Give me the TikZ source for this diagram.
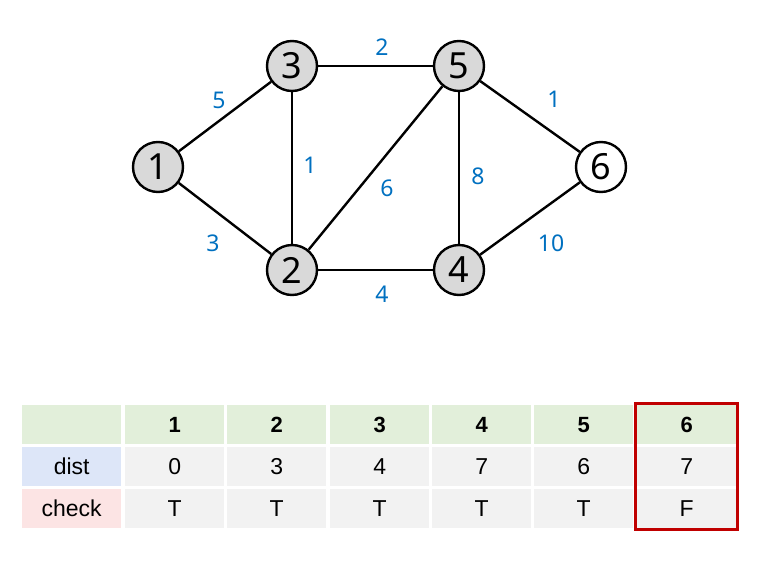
\documentclass[tikz,border=0pt]{standalone}
\usepackage{fontspec}
\usetikzlibrary{fit}
\setmainfont{Noto Sans}
\newfontfamily\tabfont{Liberation Sans}
\definecolor{lblue}{HTML}{0070C0}
\definecolor{nodegray}{HTML}{D9D9D9}
\definecolor{hdrgreen}{HTML}{E2EFDA}
\definecolor{distblue}{HTML}{DDE6F8}
\definecolor{checkpink}{HTML}{FCE4E4}
\definecolor{cellgray}{HTML}{F2F2F2}
\definecolor{boxred}{HTML}{C00000}
\begin{document}
\begin{tikzpicture}[x=1pt,y=-1pt,
  vtx/.style={circle,draw=black,line width=2.4pt,fill=nodegray,minimum size=50pt,inner sep=0pt,font=\fontsize{36}{36}\selectfont},
  vtxw/.style={vtx,fill=white},
  edge/.style={line width=2.4pt,black},
  wlab/.style={font=\fontsize{23}{23}\selectfont,text=lblue},
  cell/.style={minimum width=99pt,minimum height=39pt,inner sep=0pt,anchor=north west,font=\tabfont\fontsize{23}{23}\selectfont},
  hcell/.style={cell,fill=hdrgreen,font=\tabfont\bfseries\fontsize{22}{22}\selectfont},
  gcell/.style={cell,fill=cellgray}]
\useasboundingbox (0,0) rectangle (777,562);
% vertices
\node[vtx] (n1) at (158,167) {1};
\node[vtx] (n3) at (292,66) {3};
\node[vtx] (n5) at (459,66) {5};
\node[vtx] (n2) at (292,270) {2};
\node[vtx] (n4) at (459,270) {4};
\node[vtxw] (n6) at (601,167) {6};
% edges
\draw[edge] (n1) -- (n3);
\draw[edge] (n1) -- (n2);
\draw[edge] (n3) -- (n2);
\draw[edge] (n3) -- (n5);
\draw[edge] (n2) -- (n5);
\draw[edge] (n2) -- (n4);
\draw[edge] (n5) -- (n4);
\draw[edge] (n5) -- (n6);
\draw[edge] (n4) -- (n6);
% weights
\node[wlab] (w13) at (219,100) {5};
\node[wlab] (w12) at (213,243) {3};
\node[wlab] (w32) at (310,165) {1};
\node[wlab] (w35) at (382,47) {2};
\node[wlab] (w25) at (387,188) {6};
\node[wlab] (w24) at (382,294) {4};
\node[wlab] (w54) at (478,176) {8};
\node[wlab] (w56) at (554,99) {1};
\node[wlab] (w46) at (551,243) {10};
% table
\node[hcell] (h0) at (22,405) {};
\node[hcell] (h1) at (125,405) {1};
\node[hcell] (h2) at (227,405) {2};
\node[hcell] (h3) at (330,405) {3};
\node[hcell] (h4) at (432,405) {4};
\node[hcell] (h5) at (534,405) {5};
\node[hcell] (h6) at (637,405) {6};
\node[cell,fill=distblue] (d0) at (22,447) {dist};
\node[gcell] (d1) at (125,447) {0};
\node[gcell] (d2) at (227,447) {3};
\node[gcell] (d3) at (330,447) {4};
\node[gcell] (d4) at (432,447) {7};
\node[gcell] (d5) at (534,447) {6};
\node[gcell] (d6) at (637,447) {7};
\node[cell,fill=checkpink] (c0) at (22,489) {check};
\node[gcell] (c1) at (125,489) {T};
\node[gcell] (c2) at (227,489) {T};
\node[gcell] (c3) at (330,489) {T};
\node[gcell] (c4) at (432,489) {T};
\node[gcell] (c5) at (534,489) {T};
\node[gcell] (c6) at (637,489) {F};
\node[draw=boxred,line width=3pt,fit=(h6)(c6),inner sep=1.5pt] (redbox) {};
\end{tikzpicture}
\end{document}
